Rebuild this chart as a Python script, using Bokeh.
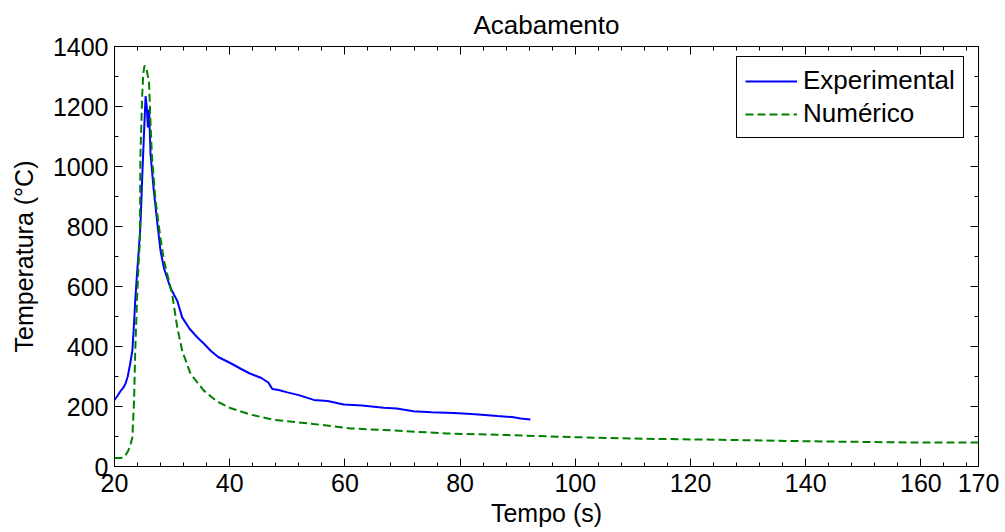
from bokeh.plotting import figure
from bokeh.models import LinearAxis, FixedTicker, Legend, LegendItem, Range1d, CustomJSTickFormatter
from bokeh.embed import file_html
from bokeh.resources import INLINE

# Experimental series (time s, temperature °C)
exp_t = [20.0, 20.5, 21.0, 21.5, 21.9, 22.3, 22.7, 23.1, 23.35, 23.6, 23.9, 24.2, 24.5, 24.8,
         25.1, 25.4, 25.6, 25.8, 26.0, 26.25, 26.8, 27.5, 28.0, 28.6, 29.7, 30.9, 31.75, 33.0,
         34.4, 35.5, 36.7, 38.0, 40.1, 42.0, 43.5, 45.5, 46.7, 47.4, 48.5, 50.0, 52.0, 54.6,
         57.0, 59.8, 63.0, 66.7, 69.0, 71.9, 75.0, 78.9, 82.0, 86.5, 89.0, 90.5, 92.2]
exp_T = [222, 235, 250, 262, 276, 300, 340, 386, 463, 552, 640, 718, 800, 958,
         1100, 1235, 1200, 1130, 1190, 1044, 924, 800, 718, 660, 596, 552, 497, 460,
         430, 410, 386, 365, 345, 325, 310, 295, 280, 258, 255, 247, 238, 222,
         218, 207, 203, 196, 193, 184, 181, 178, 175, 168, 165, 160, 157]

# Numerical series
num_t = [20.0, 21.0, 21.6, 22.0, 22.4, 22.8, 23.1, 23.4, 23.6, 23.9, 24.2, 24.4, 24.5, 24.8,
         25.0, 25.2, 25.5, 25.8, 26.0, 26.25, 26.5, 27.1, 28.0, 28.6, 30.0, 30.9, 31.75, 33.2,
         35.5, 37.8, 40.1, 43.6, 47.6, 54.0, 61.0, 68.4, 77.7, 86.4, 92.8, 101.4, 110.1,
         125.2, 140.8, 158.7, 170.0]
num_T = [28, 28, 31, 40, 53, 75, 97, 220, 386, 552, 685, 746, 1034, 1234,
         1310, 1335, 1332, 1300, 1278, 1145, 1034, 891, 758, 685, 575, 463, 386, 309,
         253, 217, 195, 173, 156, 143, 127, 120, 110, 106, 102, 97, 93,
         89, 84, 80, 80]

x_ticks = [20, 40, 60, 80, 100, 120, 140, 160, 170]
x_minor = [24, 28, 32, 36, 44, 48, 52, 56, 64, 68, 72, 76, 84, 88, 92, 96, 104, 108, 112, 116,
           124, 128, 132, 136, 144, 148, 152, 156, 164, 168]
y_ticks = [0, 200, 400, 600, 800, 1000, 1200, 1400]
y_minor = [100, 300, 500, 700, 900, 1100, 1300]

FONT = "Liberation Sans"
FS = "25px"

p = figure(width=1002, height=531, x_range=Range1d(20, 170), y_range=Range1d(0, 1400),
           output_backend="svg", toolbar_location=None, title="Acabamento",
           min_border_left=114, min_border_right=24, min_border_top=45, min_border_bottom=65)

p.title.text_font = FONT
p.title.text_font_size = "26px"
p.title.text_font_style = "normal"
p.title.align = "center"
p.title.text_color = "black"
p.title.standoff = 14

p.xgrid.visible = False
p.ygrid.visible = False
p.outline_line_color = "black"
p.outline_line_alpha = 1
p.background_fill_color = "white"
p.border_fill_color = "white"

xt = FixedTicker(ticks=x_ticks, minor_ticks=x_minor)
yt = FixedTicker(ticks=y_ticks, minor_ticks=y_minor)

def style(ax, labels=True):
    ax.major_tick_in = 8
    ax.major_tick_out = 0
    ax.minor_tick_in = 4
    ax.minor_tick_out = 0
    ax.axis_line_color = "black"
    ax.major_tick_line_color = "black"
    ax.minor_tick_line_color = "black"
    ax.major_label_text_font = FONT
    ax.major_label_text_color = "black"
    ax.axis_label_text_font = FONT
    ax.axis_label_text_font_size = FS
    ax.axis_label_text_font_style = "normal"
    ax.axis_label_text_color = "black"
    if labels:
        ax.major_label_text_font_size = FS
    else:
        ax.formatter = CustomJSTickFormatter(code="return ''")
        ax.major_label_text_font_size = "1px"
        ax.major_label_standoff = 0

p.xaxis.ticker = xt
p.yaxis.ticker = yt
style(p.xaxis[0])
style(p.yaxis[0])
p.xaxis.axis_label = "Tempo (s)"
p.yaxis.axis_label = "Temperatura (°C)"
p.xaxis.major_label_standoff = 7
p.xaxis.axis_label_standoff = 4
p.yaxis.major_label_standoff = 6
p.yaxis.axis_label_standoff = 12

top = LinearAxis(ticker=FixedTicker(ticks=x_ticks, minor_ticks=x_minor))
style(top, labels=False)
p.add_layout(top, "above")
right = LinearAxis(ticker=FixedTicker(ticks=y_ticks, minor_ticks=y_minor))
style(right, labels=False)
p.add_layout(right, "right")

r1 = p.line(exp_t, exp_T, line_color="#0000FF", line_width=2)
r2 = p.line(num_t, num_T, line_color="#008000", line_width=2, line_dash="8 4")

legend = Legend(items=[LegendItem(label="Experimental", renderers=[r1]),
                       LegendItem(label="Numérico", renderers=[r2])],
                location=(622, 328))
legend.border_line_color = "black"
legend.border_line_alpha = 1
legend.border_line_width = 1
legend.background_fill_alpha = 1
legend.label_text_font = FONT
legend.label_text_font_size = "26px"
legend.label_text_color = "black"
legend.glyph_width = 52
legend.glyph_height = 28
legend.label_height = 28
legend.label_standoff = 6
legend.padding = 8
legend.spacing = 2
legend.margin = 0
p.add_layout(legend)

open("out.html", "w").write(file_html(p, INLINE))
